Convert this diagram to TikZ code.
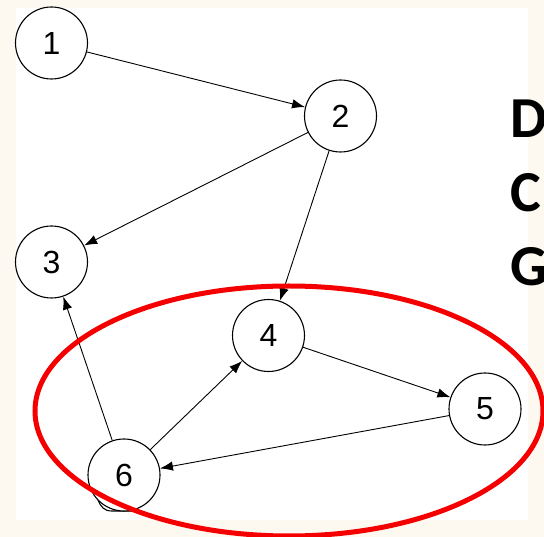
\documentclass[tikz,border=0pt]{standalone}
\usepackage{fontspec}
\setmainfont{Liberation Sans}
\newfontfamily\calib{Carlito}
\usetikzlibrary{arrows.meta}
\definecolor{cream}{HTML}{FDF9F1}
\definecolor{redline}{HTML}{F50000}
\begin{document}
\begin{tikzpicture}[x=1pt,y=-1pt,
  vtx/.style={circle,draw=black,line width=1.1pt,minimum size=72pt,inner sep=0pt,font=\fontsize{32}{32}\selectfont,fill=white},
  edge/.style={line width=0.9pt,-{Latex[length=13pt,width=9.5pt]}},
  bigletter/.style={anchor=west,inner sep=0pt,font=\calib\bfseries\fontsize{58}{58}\selectfont}]
\useasboundingbox (0,0) rectangle (544,537);
\fill[cream] (0,0) rectangle (544,537);
\fill[white] (16,8) rectangle (528,520);
% node 6 bottom bump
\draw[line width=1.1pt] (98,500) .. controls (101,507) and (104,511) .. (112,511) -- (134,511);
\node[vtx] (n1) at (51.5,43) {1};
\node[vtx] (n2) at (340.5,116) {2};
\node[vtx] (n3) at (51.5,262) {3};
\node[vtx] (n4) at (268.5,335.5) {4};
\node[vtx] (n5) at (485,409) {5};
\node[vtx] (n6) at (124,475) {6};
\draw[edge] (n1) -- (n2);
\draw[edge] (n2) -- (n3);
\draw[edge] (n2) -- (n4);
\draw[edge] (n4) -- (n5);
\draw[edge] (n5) -- (n6);
\draw[edge] (n6) -- (n4);
\draw[edge] (n6) -- (n3);
\node[bigletter] (tD) at (510,119) {D};
\node[bigletter] (tC) at (510,193) {C};
\node[bigletter] (tG) at (510,267) {G};
\draw[redline,line width=5pt] (289,411) ellipse [x radius=254,y radius=125];
\end{tikzpicture}
\end{document}
